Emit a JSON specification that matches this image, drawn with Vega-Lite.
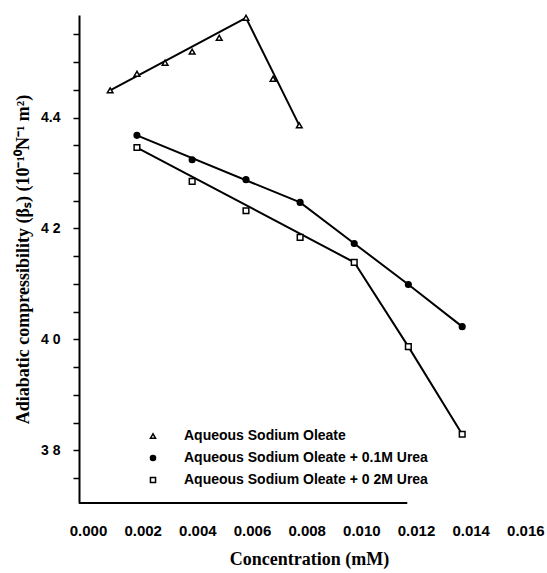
{
  "$schema": "https://vega.github.io/schema/vega-lite/v6.json",
  "width": 460,
  "height": 488,
  "autosize": {"type": "none"},
  "padding": {"left": 79, "top": 15, "right": 8, "bottom": 70},
  "background": "white",
  "config": {
    "view": {"stroke": null},
    "axis": {"grid": false, "domainColor": "black", "tickColor": "black", "labelColor": "black", "titleColor": "black"},
    "axisY": {"ticks": true, "tickSize": 6, "tickWidth": 1.5, "tickColor": "#000000", "tickOpacity": 1, "tickRound": true}
  },
  "datasets": {
    "points": [
      {"series": "Aqueous Sodium  Oleate", "conc": 0.00081, "beta": 4.449},
      {"series": "Aqueous Sodium  Oleate", "conc": 0.00179, "beta": 4.479},
      {"series": "Aqueous Sodium  Oleate", "conc": 0.00282, "beta": 4.499},
      {"series": "Aqueous Sodium  Oleate", "conc": 0.00381, "beta": 4.519},
      {"series": "Aqueous Sodium  Oleate", "conc": 0.0048, "beta": 4.544},
      {"series": "Aqueous Sodium  Oleate", "conc": 0.00578, "beta": 4.58},
      {"series": "Aqueous Sodium  Oleate", "conc": 0.00677, "beta": 4.47},
      {"series": "Aqueous Sodium  Oleate", "conc": 0.00773, "beta": 4.386},
      {"series": "Aqueous Sodium Oleate + 0.1M Urea", "conc": 0.00179, "beta": 4.368},
      {"series": "Aqueous Sodium Oleate + 0.1M Urea", "conc": 0.00381, "beta": 4.324},
      {"series": "Aqueous Sodium Oleate + 0.1M Urea", "conc": 0.00578, "beta": 4.288},
      {"series": "Aqueous Sodium Oleate + 0.1M Urea", "conc": 0.00776, "beta": 4.247},
      {"series": "Aqueous Sodium Oleate + 0.1M Urea", "conc": 0.00974, "beta": 4.173},
      {"series": "Aqueous Sodium Oleate + 0.1M Urea", "conc": 0.01172, "beta": 4.099},
      {"series": "Aqueous Sodium Oleate + 0.1M Urea", "conc": 0.01369, "beta": 4.023},
      {"series": "Aqueous Sodium Oleate + 0 2M Urea", "conc": 0.00179, "beta": 4.346},
      {"series": "Aqueous Sodium Oleate + 0 2M Urea", "conc": 0.00381, "beta": 4.285},
      {"series": "Aqueous Sodium Oleate + 0 2M Urea", "conc": 0.00578, "beta": 4.232},
      {"series": "Aqueous Sodium Oleate + 0 2M Urea", "conc": 0.00776, "beta": 4.184},
      {"series": "Aqueous Sodium Oleate + 0 2M Urea", "conc": 0.00974, "beta": 4.139},
      {"series": "Aqueous Sodium Oleate + 0 2M Urea", "conc": 0.01172, "beta": 3.987},
      {"series": "Aqueous Sodium Oleate + 0 2M Urea", "conc": 0.01369, "beta": 3.829}
    ],
    "lines": [
      {"series": "Aqueous Sodium  Oleate", "conc": 0.00081, "beta": 4.449},
      {"series": "Aqueous Sodium  Oleate", "conc": 0.00578, "beta": 4.58},
      {"series": "Aqueous Sodium  Oleate", "conc": 0.00773, "beta": 4.386},
      {"series": "Aqueous Sodium Oleate + 0.1M Urea", "conc": 0.00179, "beta": 4.368},
      {"series": "Aqueous Sodium Oleate + 0.1M Urea", "conc": 0.00776, "beta": 4.247},
      {"series": "Aqueous Sodium Oleate + 0.1M Urea", "conc": 0.00974, "beta": 4.173},
      {"series": "Aqueous Sodium Oleate + 0.1M Urea", "conc": 0.01172, "beta": 4.099},
      {"series": "Aqueous Sodium Oleate + 0.1M Urea", "conc": 0.01369, "beta": 4.023},
      {"series": "Aqueous Sodium Oleate + 0 2M Urea", "conc": 0.00179, "beta": 4.346},
      {"series": "Aqueous Sodium Oleate + 0 2M Urea", "conc": 0.00974, "beta": 4.139},
      {"series": "Aqueous Sodium Oleate + 0 2M Urea", "conc": 0.01172, "beta": 3.987},
      {"series": "Aqueous Sodium Oleate + 0 2M Urea", "conc": 0.01369, "beta": 3.829}
    ]
  },
  "layer": [
    {
      "data": {"values": [{}]},
      "mark": {"type": "rule", "color": "black", "strokeWidth": 2},
      "encoding": {
        "x": {"datum": -0.00033, "type": "quantitative"},
        "x2": {"datum": 0.01168},
        "y": {"datum": 3.705, "type": "quantitative"}
      }
    },
    {
      "data": {"name": "lines"},
      "mark": {"type": "line", "color": "black", "strokeWidth": 2},
      "encoding": {
        "x": {"field": "conc", "type": "quantitative"},
        "y": {"field": "beta", "type": "quantitative"},
        "detail": {"field": "series"}
      }
    },
    {
      "data": {"name": "points"},
      "mark": {"type": "point", "strokeWidth": 1.5, "opacity": 1, "size": 32},
      "encoding": {
        "x": {
          "field": "conc",
          "type": "quantitative",
          "scale": {"domain": [-0.00033, 0.0165], "nice": false, "zero": false},
          "axis": {
            "values": [0, 0.002, 0.004, 0.006, 0.008, 0.01, 0.012, 0.014, 0.016],
            "format": ".3f",
            "domain": false,
            "ticks": false,
            "labelPadding": 20,
            "labelFont": "Liberation Sans",
            "labelFontWeight": "bold",
            "labelFontSize": 15,
            "title": "Concentration (mM)",
            "titleFont": "Liberation Serif",
            "titleFontWeight": "bold",
            "titleFontSize": 18,
            "titlePadding": 12
          }
        },
        "y": {
          "field": "beta",
          "type": "quantitative",
          "scale": {"domain": [3.705, 4.585], "nice": false, "zero": false},
          "axis": {
            "values": [3.75, 3.8, 3.85, 3.9, 3.95, 4.0, 4.05, 4.1, 4.15, 4.2, 4.25, 4.3, 4.35, 4.4, 4.45, 4.5, 4.55],
            "tickCount": 17,
            "labelExpr": "abs(datum.value-4.4)<0.001 ? '4.4' : abs(datum.value-4.2)<0.001 ? '4 2' : abs(datum.value-4.0)<0.001 ? '4 0' : abs(datum.value-3.8)<0.001 ? '3 8' : ''",
            "labelOverlap": false,
            "domainWidth": 2,
            "labelPadding": 13,
            "labelFont": "Liberation Sans",
            "labelFontWeight": "bold",
            "labelFontSize": 14,
            "title": "Adiabatic compressibility (βₛ) (10⁻¹⁰N⁻¹ m²)",
            "titleFont": "Liberation Serif",
            "titleFontWeight": "bold",
            "titleFontSize": 18,
            "titlePadding": 8
          }
        },
        "shape": {
          "field": "series",
          "type": "nominal",
          "scale": {
            "domain": ["Aqueous Sodium  Oleate", "Aqueous Sodium Oleate + 0.1M Urea", "Aqueous Sodium Oleate + 0 2M Urea"],
            "range": ["triangle-up", "circle", "square"]
          },
          "legend": {
            "title": null,
            "orient": "none",
            "legendX": 67,
            "legendY": 414,
            "labelFont": "Liberation Sans",
            "labelFontWeight": "bold",
            "labelFontSize": 14,
            "labelColor": "black",
            "labelLimit": 400,
            "labelOffset": 24,
            "symbolSize": 26,
            "symbolStrokeWidth": 1.5,
            "rowPadding": 8
          }
        },
        "fill": {
          "field": "series",
          "type": "nominal",
          "scale": {
            "domain": ["Aqueous Sodium  Oleate", "Aqueous Sodium Oleate + 0.1M Urea", "Aqueous Sodium Oleate + 0 2M Urea"],
            "range": ["white", "black", "white"]
          },
          "legend": {"title": null}
        },
        "stroke": {
          "field": "series",
          "type": "nominal",
          "scale": {
            "domain": ["Aqueous Sodium  Oleate", "Aqueous Sodium Oleate + 0.1M Urea", "Aqueous Sodium Oleate + 0 2M Urea"],
            "range": ["black", "black", "black"]
          },
          "legend": {"title": null}
        }
      }
    }
  ]
}
